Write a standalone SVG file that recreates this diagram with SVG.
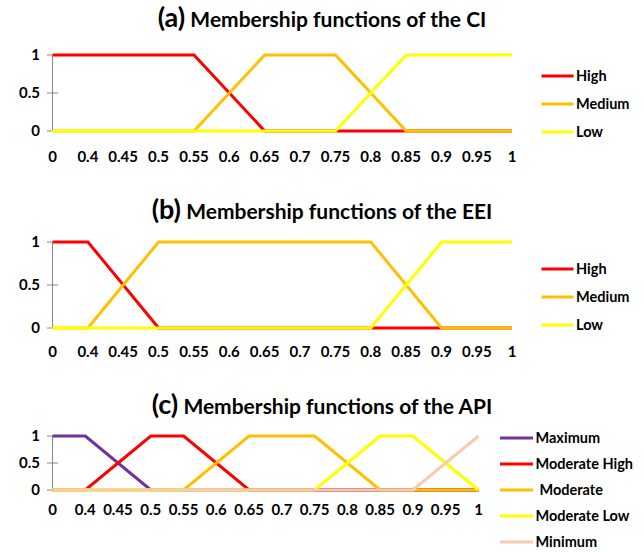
<svg xmlns="http://www.w3.org/2000/svg" width="644" height="552" viewBox="0 0 644 552">
<style>
.title{font-family:Lato,"Liberation Sans",sans-serif;font-weight:bold;font-size:21px;fill:#000}
.tl{font-size:27px}
.lab{font-family:Lato,"Liberation Sans",sans-serif;font-weight:bold;font-size:15px;fill:#000}
.leg{font-family:Lato,"Liberation Sans",sans-serif;font-weight:bold;font-size:14.5px;fill:#000}
.ax{stroke:#868686;stroke-width:1;fill:none}
.s{fill:none;stroke-width:3;stroke-linejoin:miter}
.red{stroke:#FF0000}.org{stroke:#FFC000}.yel{stroke:#FFFF00}.pur{stroke:#7030A0}.pch{stroke:#F8CBAD}
</style>
<rect width="644" height="552" fill="#fff"/>

<g id="panel-a">
<text class="title" x="322" y="27" text-anchor="middle"><tspan class="tl">(a)</tspan> Membership functions of the CI</text>
<g id="a-axis">
<path class="ax" d="M52.5,55V131M47,55H52M47,93H58M47,131H52"/>
<g class="lab" text-anchor="end"><text x="40" y="60">1</text><text x="40" y="98">0.5</text><text x="40" y="136">0</text></g>
<g class="lab" text-anchor="middle">
<text x="52.5" y="162">0</text><text x="87.9" y="162">0.4</text><text x="123.2" y="162">0.45</text><text x="158.6" y="162">0.5</text><text x="194" y="162">0.55</text><text x="229.3" y="162">0.6</text><text x="264.7" y="162">0.65</text><text x="300.1" y="162">0.7</text><text x="335.5" y="162">0.75</text><text x="370.8" y="162">0.8</text><text x="406.2" y="162">0.85</text><text x="441.6" y="162">0.9</text><text x="476.9" y="162">0.95</text><text x="512" y="162">1</text>
</g>
</g>
<g id="a-series">
<polyline class="s red" points="52.5,55 194,55 264.7,131 512,131"/>
<polyline class="s org" points="52.5,131 194,131 264.7,55 335.5,55 406.2,131 512,131"/>
<polyline class="s yel" points="52.5,131 335.5,131 406.2,55 512,55"/>
</g>
<g id="a-legend">
<line class="s red" x1="541.5" y1="76" x2="573.5" y2="76"/><text class="leg" x="576" y="81">High</text>
<line class="s org" x1="541.5" y1="104" x2="573.5" y2="104"/><text class="leg" x="576" y="109">Medium</text>
<line class="s yel" x1="541.5" y1="132" x2="573.5" y2="132"/><text class="leg" x="576" y="137">Low</text>
</g>
</g>

<g id="panel-b">
<text class="title" x="322" y="219" text-anchor="middle"><tspan class="tl">(b)</tspan> Membership functions of the EEI</text>
<g id="b-axis">
<path class="ax" d="M52.5,242V328M47,242H52M47,285H58M47,328H52"/>
<g class="lab" text-anchor="end"><text x="40" y="247">1</text><text x="40" y="290">0.5</text><text x="40" y="333">0</text></g>
<g class="lab" text-anchor="middle">
<text x="52.5" y="357">0</text><text x="87.9" y="357">0.4</text><text x="123.2" y="357">0.45</text><text x="158.6" y="357">0.5</text><text x="194" y="357">0.55</text><text x="229.3" y="357">0.6</text><text x="264.7" y="357">0.65</text><text x="300.1" y="357">0.7</text><text x="335.5" y="357">0.75</text><text x="370.8" y="357">0.8</text><text x="406.2" y="357">0.85</text><text x="441.6" y="357">0.9</text><text x="476.9" y="357">0.95</text><text x="512" y="357">1</text>
</g>
</g>
<g id="b-series">
<polyline class="s red" points="52.5,242 87.9,242 158.6,328 512,328"/>
<polyline class="s org" points="52.5,328 87.9,328 158.6,242 370.8,242 441.6,328 512,328"/>
<polyline class="s yel" points="52.5,328 370.8,328 441.6,242 512,242"/>
</g>
<g id="b-legend">
<line class="s red" x1="541.5" y1="269" x2="573.5" y2="269"/><text class="leg" x="576" y="274">High</text>
<line class="s org" x1="541.5" y1="297" x2="573.5" y2="297"/><text class="leg" x="576" y="302">Medium</text>
<line class="s yel" x1="541.5" y1="325" x2="573.5" y2="325"/><text class="leg" x="576" y="330">Low</text>
</g>
</g>

<g id="panel-c">
<text class="title" x="322" y="414" text-anchor="middle"><tspan class="tl">(c)</tspan> Membership functions of the API</text>
<g id="c-axis">
<path class="ax" d="M52.5,436V490M47,436H52M47,463H58M47,490H52"/>
<g class="lab" text-anchor="end"><text x="40" y="441">1</text><text x="40" y="468">0.5</text><text x="40" y="495">0</text></g>
<g class="lab" text-anchor="middle">
<text x="52.5" y="515">0</text><text x="85.3" y="515">0.4</text><text x="118" y="515">0.45</text><text x="150.8" y="515">0.5</text><text x="183.6" y="515">0.55</text><text x="216.3" y="515">0.6</text><text x="249.1" y="515">0.65</text><text x="281.9" y="515">0.7</text><text x="314.6" y="515">0.75</text><text x="347.4" y="515">0.8</text><text x="380.2" y="515">0.85</text><text x="412.9" y="515">0.9</text><text x="445.7" y="515">0.95</text><text x="478.5" y="515">1</text>
</g>
</g>
<g id="c-series">
<polyline class="s pur" points="52.5,436 85.3,436 150.8,490 478.5,490"/>
<polyline class="s red" points="52.5,490 85.3,490 150.8,436 183.6,436 249.1,490 478.5,490"/>
<polyline class="s org" points="52.5,490 183.6,490 249.1,436 314.6,436 380.2,490 478.5,490"/>
<polyline class="s yel" points="52.5,490 314.6,490 380.2,436 412.9,436 478.5,490"/>
<polyline class="s pch" points="52.5,490 412.9,490 478.5,436"/>
</g>
<g id="c-legend">
<line class="s pur" x1="500" y1="438" x2="533" y2="438"/><text class="leg" x="535.5" y="443">Maximum</text>
<line class="s red" x1="500" y1="464" x2="533" y2="464"/><text class="leg" x="535.5" y="469">Moderate High</text>
<line class="s org" x1="500" y1="490" x2="533" y2="490"/><text class="leg" x="539.5" y="495">Moderate</text>
<line class="s yel" x1="500" y1="516" x2="533" y2="516"/><text class="leg" x="535.5" y="521">Moderate Low</text>
<line class="s pch" x1="500" y1="542" x2="533" y2="542"/><text class="leg" x="535.5" y="547">Minimum</text>
</g>
</g>
</svg>
